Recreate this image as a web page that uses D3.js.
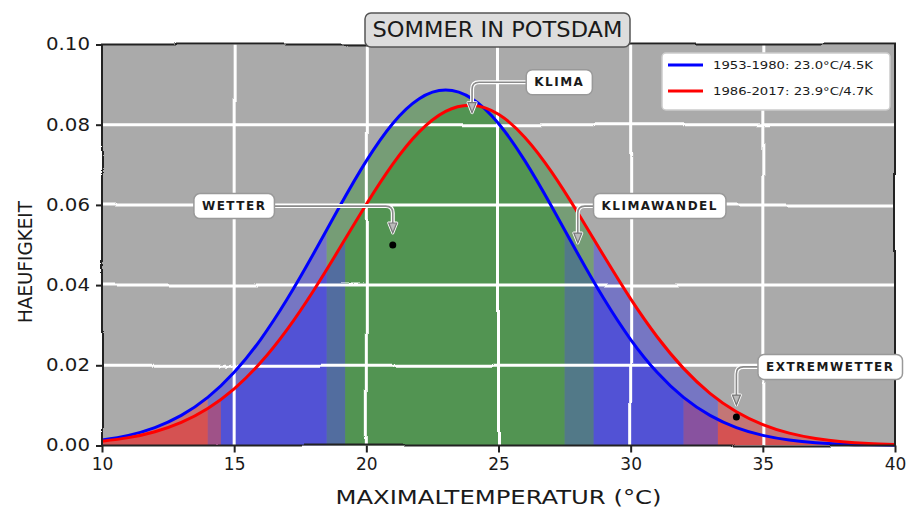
<!DOCTYPE html>
<html>
<head>
<meta charset="utf-8">
<script src="https://cdn.jsdelivr.net/npm/d3@7"></script>
<style>
  html, body { margin: 0; padding: 0; background: #ffffff; }
  svg { display: block; }
  text { font-family: "Humor Sans", "DejaVu Sans", "Noto Sans", sans-serif; fill: #1a1a1a; }
</style>
</head>
<body>
<svg id="chart" width="911" height="515"></svg>
<script>
// Daily maximum temperature (°C) and relative frequency for two summer periods
const temps = [10, 11, 12, 13, 14, 15, 16, 17, 18, 19, 20, 21, 22, 23, 24, 25,
               26, 27, 28, 29, 30, 31, 32, 33, 34, 35, 36, 37, 38, 39, 40];
const freqEarly = [0.00137, 0.00253, 0.00447, 0.00751, 0.01200, 0.01825, 0.02643, 0.03645,
                   0.04782, 0.05972, 0.07098, 0.08032, 0.08649, 0.08865, 0.08649, 0.08032,
                   0.07098, 0.05972, 0.04782, 0.03645, 0.02643, 0.01825, 0.01200, 0.00751,
                   0.00447, 0.00253, 0.00137, 0.00070, 0.00034, 0.00016, 0.00007];
const freqLate = [0.00107, 0.00196, 0.00344, 0.00577, 0.00923, 0.01413, 0.02067, 0.02890,
                  0.03860, 0.04929, 0.06016, 0.07017, 0.07822, 0.08334, 0.08486, 0.08259,
                  0.07682, 0.06829, 0.05802, 0.04711, 0.03656, 0.02712, 0.01923, 0.01302,
                  0.00843, 0.00522, 0.00309, 0.00175, 0.00094, 0.00049, 0.00024];
const periods = ["1953-1980", "1986-2017"];
const means = [23.0, 23.9];
const sigmas = [4.5, 4.7];
const xTicks = [10, 15, 20, 25, 30, 35, 40];
const yTicks = [0.00, 0.02, 0.04, 0.06, 0.08, 0.10];

// Annotations: label, point in data units, text anchor in data units, whether a dot is drawn
const annLabels = ["WETTER", "KLIMA", "KLIMAWANDEL", "EXTREMWETTER"];
const annPoints = [[21, 0.050], [24, 0.080], [28, 0.0475], [34, 0.0071]];
const annAnchors = [[15.0, 0.0597], [27.3, 0.0906], [31.1, 0.0597], [37.55, 0.0196]];
const annDots = [true, false, false, true];

const W = 911, H = 515;
const margin = { left: 102, right: 16, top: 44.5, bottom: 69.5 };
const svg = d3.select("#chart");

const x = d3.scaleLinear().domain([10, 40]).range([margin.left, W - margin.right]);
const y = d3.scaleLinear().domain([0, 0.10]).range([H - margin.bottom, margin.top]);

const lineColors = ["#0000ff", "#ff0000"];
const bandColors = { inner: "#008000", middle: "#0000ff", outer: "#ff0000" };

const defs = svg.append("defs");
// gentle hand-drawn wobble for grid and frame
const f = defs.append("filter").attr("id", "wobble")
  .attr("filterUnits", "userSpaceOnUse")
  .attr("x", 0).attr("y", 0).attr("width", W).attr("height", H);
f.append("feTurbulence").attr("type", "fractalNoise").attr("baseFrequency", 0.007)
  .attr("numOctaves", 1).attr("seed", 4).attr("result", "noise");
f.append("feDisplacementMap").attr("in", "SourceGraphic").attr("in2", "noise")
  .attr("scale", 5).attr("xChannelSelector", "R").attr("yChannelSelector", "G");

const px0 = x(10), px1 = x(40), py0 = y(0.10), py1 = y(0);

// plot background
svg.append("rect").attr("x", px0).attr("y", py0)
  .attr("width", px1 - px0).attr("height", py1 - py0).attr("fill", "#aaaaaa");

const series = [freqEarly, freqLate].map(vals => temps.map((t, i) => ({ t, v: vals[i] })));

const area = d3.area().x(d => x(d.t)).y0(y(0)).y1(d => y(d.v)).curve(d3.curveNatural);
const line = d3.line().x(d => x(d.t)).y(d => y(d.v)).curve(d3.curveNatural);

// shaded sigma bands under each distribution
const fillG = svg.append("g");
series.forEach((data, i) => {
  const m = means[i], s = sigmas[i];
  const bands = [
    [10, m - 2 * s, bandColors.outer],
    [m - 2 * s, m - s, bandColors.middle],
    [m - s, m + s, bandColors.inner],
    [m + s, m + 2 * s, bandColors.middle],
    [m + 2 * s, 40, bandColors.outer]
  ];
  bands.forEach((b, j) => {
    const id = `band-${i}-${j}`;
    defs.append("clipPath").attr("id", id).append("rect")
      .attr("x", x(b[0])).attr("y", py0)
      .attr("width", x(b[1]) - x(b[0])).attr("height", py1 - py0);
    fillG.append("path").datum(data)
      .attr("d", area)
      .attr("clip-path", `url(#${id})`)
      .attr("fill", b[2]).attr("fill-opacity", 0.3);
  });
});

// white grid
const gridG = svg.append("g").attr("filter", "url(#wobble)");
xTicks.slice(1, -1).forEach(t => {
  gridG.append("line").attr("x1", x(t)).attr("x2", x(t)).attr("y1", py0).attr("y2", py1)
    .attr("stroke", "#ffffff").attr("stroke-width", 3);
});
yTicks.slice(1, -1).forEach(t => {
  gridG.append("line").attr("x1", px0).attr("x2", px1).attr("y1", y(t)).attr("y2", y(t))
    .attr("stroke", "#ffffff").attr("stroke-width", 3);
});

// distribution curves
series.forEach((data, i) => {
  svg.append("path").datum(data).attr("d", line)
    .attr("fill", "none").attr("stroke", lineColors[i]).attr("stroke-width", 3)
    .attr("stroke-linejoin", "round");
});

// frame
const frameG = svg.append("g").attr("filter", "url(#wobble)");
frameG.append("rect").attr("x", px0).attr("y", py0)
  .attr("width", px1 - px0).attr("height", py1 - py0)
  .attr("fill", "none").attr("stroke", "#222").attr("stroke-width", 2);

// axes
const yAxis = svg.append("g").attr("transform", `translate(${px0},0)`)
  .call(d3.axisLeft(y).tickValues(yTicks).tickFormat(d3.format(".2f")).tickSize(6).tickPadding(6));
const xAxis = svg.append("g").attr("transform", `translate(0,${py1})`)
  .call(d3.axisBottom(x).tickValues(xTicks).tickFormat(d3.format("d")).tickSize(7).tickPadding(5));
[yAxis, xAxis].forEach(a => {
  a.select(".domain").remove();
  a.selectAll(".tick line").attr("stroke", "#222").attr("stroke-width", 2);
  a.selectAll(".tick text").attr("font-size", 17).attr("fill", "#1a1a1a")
    .style("font-family", "'Humor Sans','DejaVu Sans',sans-serif");
});
yAxis.selectAll(".tick text").attr("textLength", 44).attr("lengthAdjust", "spacingAndGlyphs");

// axis titles
svg.append("text").attr("x", (px0 + px1) / 2).attr("y", 504)
  .attr("text-anchor", "middle").attr("font-size", 20)
  .attr("textLength", 326).attr("lengthAdjust", "spacingAndGlyphs")
  .text("MAXIMALTEMPERATUR (°C)");
svg.append("text").attr("transform", "translate(32,262) rotate(-90)")
  .attr("text-anchor", "middle").attr("font-size", 19)
  .attr("textLength", 122).attr("lengthAdjust", "spacingAndGlyphs")
  .text("HAEUFIGKEIT");

// annotations
const annG = svg.append("g");
annLabels.forEach((lab, i) => {
  const [tx, ty] = annPoints[i];
  const [ax, ay] = annAnchors[i];
  const cx = x(ax), cy = y(ay);
  const g = annG.append("g");
  const txt = g.append("text").attr("x", cx).attr("y", cy)
    .attr("text-anchor", "middle").attr("dominant-baseline", "central")
    .attr("font-size", 12).attr("font-weight", "bold").attr("letter-spacing", 1.5)
    .text(lab);
  const bb = txt.node().getBBox();
  const bw = bb.width + 16, bh = 25;
  const bx = cx - bw / 2, by = cy - bh / 2;

  // connector: horizontal from the box, then down to the point
  const px = x(tx), ptip = y(ty) - 12;
  const dir = px > cx ? 1 : -1;
  const sx = dir > 0 ? bx + bw : bx;
  const r = 7;
  const d = `M${sx},${cy} H${px - dir * r} Q${px},${cy} ${px},${cy + r} V${ptip - 4}`;
  const head = `M${px},${ptip} L${px - 4},${ptip - 10} L${px + 4},${ptip - 10} Z`;
  annG.insert("path", ":first-child").attr("d", d).attr("fill", "none")
    .attr("stroke", "#ffffff").attr("stroke-width", 4);
  annG.insert("path", ":first-child").attr("d", head).attr("fill", "#ffffff")
    .attr("stroke", "#ffffff").attr("stroke-width", 3).attr("stroke-linejoin", "round");
  g.insert("path", ":first-child").attr("d", head).attr("fill", "#bbbbbb")
    .attr("stroke", "#777").attr("stroke-width", 1.2);
  g.insert("path", ":first-child").attr("d", d).attr("fill", "none")
    .attr("stroke", "#8a8a8a").attr("stroke-width", 1.6);
  g.insert("rect", "text").attr("x", bx).attr("y", by).attr("width", bw).attr("height", bh)
    .attr("rx", 6).attr("fill", "#ffffff").attr("stroke", "#999").attr("stroke-width", 1.5);

  if (annDots[i]) {
    svg.append("circle").attr("cx", x(tx)).attr("cy", y(ty)).attr("r", 3.5).attr("fill", "#000");
  }
});

// title
const titleG = svg.append("g");
titleG.append("rect").attr("x", 365).attr("y", 13).attr("width", 265).attr("height", 34)
  .attr("rx", 6).attr("fill", "#dddddd").attr("stroke", "#555").attr("stroke-width", 1.5);
titleG.append("text").attr("x", 497.5).attr("y", 30).attr("text-anchor", "middle")
  .attr("dominant-baseline", "central").attr("font-size", 21)
  .attr("textLength", 250).attr("lengthAdjust", "spacingAndGlyphs")
  .text("SOMMER IN POTSDAM");

// legend
const legG = svg.append("g");
legG.append("rect").attr("x", 662).attr("y", 53).attr("width", 228).attr("height", 57)
  .attr("rx", 4).attr("fill", "#ffffff").attr("stroke", "#cccccc").attr("stroke-width", 1.5);
periods.forEach((p, i) => {
  const ly = 65 + i * 26;
  legG.append("line").attr("x1", 668).attr("x2", 703).attr("y1", ly).attr("y2", ly)
    .attr("stroke", lineColors[i]).attr("stroke-width", 3);
  legG.append("text").attr("x", 713).attr("y", ly).attr("dominant-baseline", "central")
    .attr("font-size", 11).attr("textLength", 160).attr("lengthAdjust", "spacingAndGlyphs")
    .text(`${p}: ${means[i].toFixed(1)}°C/${sigmas[i].toFixed(1)}K`);
});
</script>
</body>
</html>
